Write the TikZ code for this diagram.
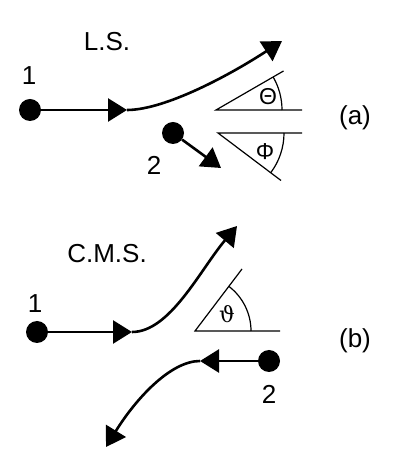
\documentclass[tikz,border=0pt]{standalone}
\usepackage{fontspec}
\setmainfont{Liberation Sans}
\newfontfamily\varthfont{DejaVu Serif}
\usetikzlibrary{arrows.meta}
\begin{document}
\begin{tikzpicture}[x=1pt,y=1pt,
  traj/.style={line width=2.6pt,-{Triangle[length=19pt,width=23pt]}},
  ang/.style={line width=1.2pt},
  dot/.style={circle,fill=black,inner sep=0pt,minimum size=22pt},
  lbl/.style={font=\fontsize{26}{30}\selectfont,inner sep=0pt},
  glbl/.style={font=\fontsize{23}{27}\selectfont,inner sep=0pt}]
\useasboundingbox (0,0) rectangle (392,468);
% ---------- (a) ----------
\node[lbl] (ls) at (107,426) {L.S.};
\node[lbl] (na1) at (29,392) {1};
\node[dot] (a1) at (30,358) {};
\coordinate (a1m) at (127,358);
\coordinate (a1e) at (282,427);
\draw[traj] (a1) -- (a1m);
\draw[traj] (a1m) .. controls (165,358) and (230,393) .. (a1e);
\coordinate (tv) at (216,358);
\coordinate (th) at (302,358);
\coordinate (ti) at (283.5,397);
\draw[ang] (th) -- (tv) -- (ti);
\draw[ang] (tv) ++(66,0) arc[start angle=0,end angle=30,radius=66];
\node[glbl] (theta) at (268,371) {Θ};
\coordinate (pv) at (218,335);
\coordinate (ph) at (302,335);
\coordinate (pi) at (281,287.5);
\draw[ang] (ph) -- (pv) -- (pi);
\draw[ang] (pv) ++(66,0) arc[start angle=0,end angle=-37,radius=66];
\node[glbl] (phi) at (265,316) {Φ};
\node[lbl] (la) at (355,350) {(a)};
\node[dot] (a2) at (173,335) {};
\node[lbl] (na2) at (154,303) {2};
\coordinate (a2e) at (221,300);
\draw[traj] (a2) -- (a2e);
% ---------- (b) ----------
\node[lbl] (cms) at (107,214) {C.M.S.};
\node[lbl] (nb1) at (35,164) {1};
\node[dot] (b1) at (37,136) {};
\coordinate (b1m) at (132,136);
\coordinate (b1e) at (237,242);
\draw[traj] (b1) -- (b1m);
\draw[traj] (b1m) .. controls (170,136) and (200,198) .. (b1e);
\coordinate (vv) at (195,137);
\coordinate (vh) at (280,137);
\coordinate (vi) at (242,199);
\draw[ang] (vh) -- (vv) -- (vi);
\draw[ang] (vv) ++(56,0) arc[start angle=0,end angle=53,radius=56];
\node[font=\fontsize{22}{26}\selectfont\varthfont,inner sep=0pt] (vartheta) at (227,154) {ϑ};
\node[lbl] (lb) at (355,127) {(b)};
\node[dot] (b2) at (269,107) {};
\node[lbl] (nb2) at (269,74) {2};
\coordinate (b2m) at (200,107);
\coordinate (b2e) at (106,21);
\draw[traj] (b2) -- (b2m);
\draw[traj] (b2m) .. controls (170,107) and (135,68) .. (b2e);
\end{tikzpicture}
\end{document}
